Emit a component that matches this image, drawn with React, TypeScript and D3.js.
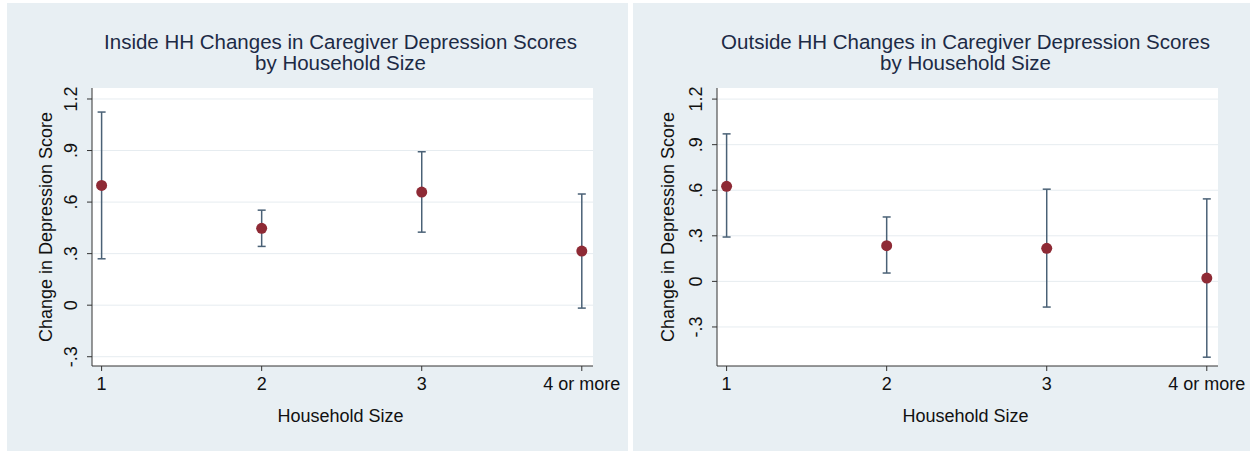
import * as d3 from 'd3';

// household size categories (x positions 1..4)
const categories = ['1', '2', '3', '4 or more'];
const yTicks = [-0.3, 0, 0.3, 0.6, 0.9, 1.2];
const yTickLabels = ['-.3', '0', '.3', '.6', '.9', '1.2'];

// Inside HH: estimate, lower CI, upper CI
const insideEst = [0.697, 0.447, 0.658, 0.315];
const insideLo = [0.27, 0.342, 0.425, -0.017];
const insideHi = [1.124, 0.553, 0.893, 0.647];

// Outside HH
const outsideEst = [0.626, 0.235, 0.218, 0.022];
const outsideLo = [0.292, 0.055, -0.169, -0.499];
const outsideHi = [0.971, 0.424, 0.607, 0.543];

const FONT = '"Liberation Sans", Arial, Helvetica, sans-serif';
const BG = '#e8eff3';
const BAR = '#4a6176';
const DOT = '#8e2a35';

interface PanelProps {
  x0: number;
  width: number;
  axisX: number;
  yTitleX: number;
  title: string;
  yDomain: [number, number];
  est: number[];
  lo: number[];
  hi: number[];
}

function Panel({ x0, width, axisX, yTitleX, title, yDomain, est, lo, hi }: PanelProps) {
  const top = 88;
  const bottom = 366;
  const right = axisX + 501;

  const x = d3.scaleLinear().domain([0.94, 4.07]).range([axisX, right]);
  const y = d3.scaleLinear().domain(yDomain).range([bottom, top]);
  const cx = (axisX + right) / 2 - 2;

  return (
    <g>
      <rect x={x0} y={3} width={width} height={448} fill={BG} />
      <rect x={axisX} y={top} width={right - axisX} height={bottom - top} fill="#ffffff" />

      <text textAnchor="middle" fontSize={20.5} fill="#1c2a45" fontFamily={FONT}>
        <tspan x={cx} y={49}>{title}</tspan>
        <tspan x={cx} y={70}>by Household Size</tspan>
      </text>

      {yTicks.map((t, i) => (
        <g key={'g' + i}>
          <line x1={axisX} x2={right} y1={y(t)} y2={y(t)} stroke="#e6ecf0" strokeWidth={1} />
          <line x1={axisX - 5} x2={axisX} y1={y(t)} y2={y(t)} stroke="#333" strokeWidth={1} />
          <text
            transform={`translate(${axisX - 21},${y(t)}) rotate(-90)`}
            textAnchor="middle"
            dominantBaseline="central"
            fontSize={18}
            fill="#111"
            fontFamily={FONT}
          >
            {yTickLabels[i]}
          </text>
        </g>
      ))}

      <line x1={axisX} x2={axisX} y1={top} y2={bottom} stroke="#333" strokeWidth={1} />
      <line x1={axisX} x2={right} y1={bottom} y2={bottom} stroke="#333" strokeWidth={1} />

      {categories.map((c, i) => (
        <g key={'x' + i}>
          <line x1={x(i + 1)} x2={x(i + 1)} y1={bottom} y2={bottom + 5} stroke="#333" strokeWidth={1} />
          <text x={x(i + 1)} y={390} textAnchor="middle" fontSize={18} fill="#111" fontFamily={FONT}>
            {c}
          </text>
        </g>
      ))}

      <text x={cx} y={422} textAnchor="middle" fontSize={18} fill="#111" fontFamily={FONT}>
        Household Size
      </text>
      <text
        transform={`translate(${yTitleX},${(top + bottom) / 2}) rotate(-90)`}
        textAnchor="middle"
        dominantBaseline="central"
        fontSize={18}
        fill="#111"
        fontFamily={FONT}
      >
        Change in Depression Score
      </text>

      {est.map((v, i) => {
        const px = x(i + 1);
        return (
          <g key={'e' + i}>
            <line x1={px} x2={px} y1={y(lo[i])} y2={y(hi[i])} stroke={BAR} strokeWidth={1.5} />
            <line x1={px - 4} x2={px + 4} y1={y(lo[i])} y2={y(lo[i])} stroke={BAR} strokeWidth={1.5} />
            <line x1={px - 4} x2={px + 4} y1={y(hi[i])} y2={y(hi[i])} stroke={BAR} strokeWidth={1.5} />
            <circle cx={px} cy={y(v)} r={5.5} fill={DOT} />
          </g>
        );
      })}
    </g>
  );
}

export default function App() {
  return (
    <svg width={1253} height={453} style={{ position: 'absolute', left: 0, top: 0, background: '#fff' }}>
      <Panel
        x0={7}
        width={621}
        axisX={92}
        yTitleX={46}
        title="Inside HH Changes in Caregiver Depression Scores"
        yDomain={[-0.354, 1.264]}
        est={insideEst}
        lo={insideLo}
        hi={insideHi}
      />
      <Panel
        x0={633}
        width={617}
        axisX={717}
        yTitleX={668}
        title="Outside HH Changes in Caregiver Depression Scores"
        yDomain={[-0.557, 1.273]}
        est={outsideEst}
        lo={outsideLo}
        hi={outsideHi}
      />
    </svg>
  );
}
